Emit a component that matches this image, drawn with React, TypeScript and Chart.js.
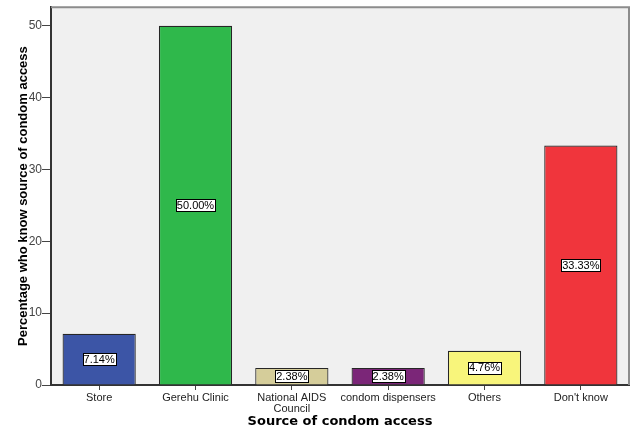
import React, { useEffect, useRef } from "react";
import { Chart, registerables } from "chart.js";

Chart.register(...registerables);

const categories: (string | string[])[] = [
  "Store",
  "Gerehu Clinic",
  ["National AIDS", "Council"],
  "condom dispensers",
  "Others",
  "Don't know",
];
const values = [7.14, 50.0, 2.38, 2.38, 4.76, 33.33];
const barLabels = ["7.14%", "50.00%", "2.38%", "2.38%", "4.76%", "33.33%"];
const barColors = ["#3c55a6", "#2fb84b", "#d5cd9a", "#7b2678", "#f8f57b", "#f0353c"];
const yTicks = [0, 10, 20, 30, 40, 50];
const yTitle = "Percentage who know source of condom access";
const xTitle = "Source of condom access";

const labelPlugin = {
  id: "barLabels",
  afterDatasetsDraw(chart: any) {
    const ctx = chart.ctx;
    const meta = chart.getDatasetMeta(0);
    ctx.save();
    ctx.font = "11px 'Liberation Sans', Arial, sans-serif";
    ctx.textBaseline = "middle";
    ctx.textAlign = "center";
    meta.data.forEach((el: any, i: number) => {
      const cy = (el.y + el.base) / 2;
      const text = barLabels[i];
      const w = ctx.measureText(text).width + 2;
      const h = 12;
      const x0 = Math.round(el.x - w / 2) + 0.5;
      const y0 = Math.round(cy - h / 2) + 0.5;
      ctx.fillStyle = "#ffffff";
      ctx.fillRect(x0, y0, Math.round(w), h);
      ctx.strokeStyle = "#000000";
      ctx.lineWidth = 1;
      ctx.strokeRect(x0, y0, Math.round(w), h);
      ctx.fillStyle = "#000000";
      ctx.fillText(text, el.x, cy + 0.5);
    });
    ctx.restore();
  },
};

const framePlugin = {
  id: "frame",
  beforeDraw(chart: any) {
    const { ctx, chartArea } = chart;
    ctx.save();
    ctx.fillStyle = "#f0f0f0";
    ctx.fillRect(chartArea.left, chartArea.top, chartArea.right - chartArea.left, chartArea.bottom - chartArea.top);
    ctx.restore();
  },
  afterDraw(chart: any) {
    const { ctx, chartArea } = chart;
    ctx.save();
    ctx.strokeStyle = "#8c8c8c";
    ctx.lineWidth = 2;
    ctx.beginPath();
    ctx.moveTo(chartArea.left, chartArea.top);
    ctx.lineTo(chartArea.right, chartArea.top);
    ctx.lineTo(chartArea.right, chartArea.bottom);
    ctx.stroke();
    ctx.restore();
  },
};

export default function App() {
  const ref = useRef<HTMLCanvasElement | null>(null);
  useEffect(() => {
    document.body.style.margin = "0";
    const c = ref.current;
    if (!c) return;
    const chart = new Chart(c, {
      type: "bar",
      data: {
        labels: categories,
        datasets: [
          {
            data: values,
            backgroundColor: barColors,
            borderColor: "#262626",
            borderWidth: 1.2,
            categoryPercentage: 1,
            barPercentage: 0.76,
          },
        ],
      },
      plugins: [framePlugin, labelPlugin],
      options: {
        animation: false,
        responsive: false,
        maintainAspectRatio: false,
        layout: { padding: { left: 0, top: 4, right: 7, bottom: 0 } },
        plugins: { legend: { display: false }, tooltip: { enabled: false } },
        scales: {
          x: {
            type: "category",
            afterFit(scale: any) {
              scale.height = 47;
            },
            grid: {
              display: true,
              drawOnChartArea: false,
              offset: false,
              tickLength: 5,
              color: "#444444",
            },
            border: { display: true, color: "#333333", width: 2 },
            ticks: {
              color: "#222222",
              font: { family: "'Liberation Sans', Arial, sans-serif", size: 11, lineHeight: 0.95 },
              padding: 3,
              maxRotation: 0,
              autoSkip: false,
            },
            title: {
              display: true,
              text: xTitle,
              color: "#000000",
              font: { family: "'DejaVu Sans', sans-serif", size: 13, weight: "bold" },
              padding: { top: 0, bottom: 3 },
            },
          },
          y: {
            min: 0,
            max: 52.6,
            afterFit(scale: any) {
              scale.width = 51;
            },
            afterBuildTicks(scale: any) {
              scale.ticks = yTicks.map((v) => ({ value: v }));
            },
            grid: {
              display: true,
              drawOnChartArea: false,
              tickLength: 9,
              color: "#444444",
            },
            border: { display: true, color: "#333333", width: 2 },
            ticks: {
              color: "#444444",
              font: { family: "'Liberation Sans', Arial, sans-serif", size: 12 },
              padding: 0,
            },
            title: {
              display: true,
              text: yTitle,
              color: "#000000",
              font: { family: "'Liberation Sans', Arial, sans-serif", size: 13, weight: "bold" },
              padding: { top: 16, bottom: 0 },
            },
          },
        },
      },
    });
    return () => chart.destroy();
  }, []);
  return (
    <div style={{ width: 636, height: 432, background: "#ffffff" }}>
      <canvas ref={ref} width={636} height={432} style={{ display: "block" }} />
    </div>
  );
}
